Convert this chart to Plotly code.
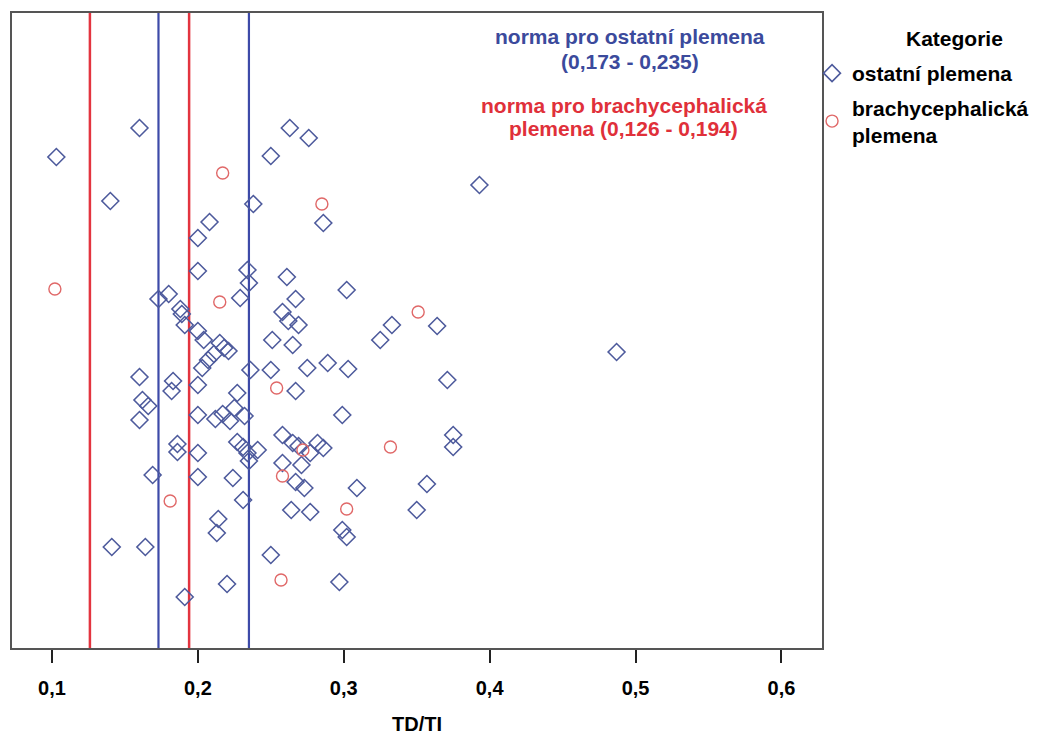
import plotly.graph_objects as go

# ---- data -----------------------------------------------------------------
# TD/TI values (x) and vertical jitter positions (arbitrary units, y axis hidden)
ostatni_tdti = [
    0.103, 0.160, 0.140, 0.263, 0.276, 0.250, 0.238, 0.286, 0.208, 0.200,
    0.200, 0.234, 0.235, 0.261, 0.302, 0.229, 0.267, 0.393,
    0.173, 0.180, 0.188, 0.189, 0.191, 0.200, 0.204, 0.215, 0.218, 0.221,
    0.211, 0.207, 0.203, 0.258, 0.262, 0.269, 0.333, 0.364, 0.325, 0.251,
    0.265, 0.236, 0.250, 0.275, 0.289, 0.303, 0.487, 0.267, 0.371,
    0.160, 0.183, 0.182, 0.162, 0.166, 0.160, 0.200, 0.227, 0.225, 0.232,
    0.200, 0.212, 0.217, 0.222, 0.299,
    0.186, 0.186, 0.200, 0.169, 0.200, 0.224, 0.231, 0.227, 0.231, 0.234,
    0.241, 0.235, 0.258, 0.265, 0.269, 0.282, 0.286, 0.277, 0.258, 0.271,
    0.267, 0.273, 0.309, 0.264, 0.277, 0.375, 0.375, 0.357, 0.350, 0.214,
    0.213, 0.299, 0.302, 0.141, 0.164, 0.250, 0.220, 0.297, 0.191,
]
ostatni_jitter = [
    491, 520, 447, 520, 510, 492, 444, 425, 426, 410,
    377, 378, 365, 371, 358, 350, 349, 463,
    349, 354, 339, 334, 323, 317, 308, 305, 300, 297,
    294, 288, 280, 336, 327, 323, 323, 322, 308, 308,
    303, 278, 278, 280, 285, 279, 296, 257, 268,
    271, 267, 257, 248, 242, 228, 263, 255, 240, 232,
    233, 229, 234, 227, 233,
    204, 196, 195, 173, 171, 170, 148, 206, 201, 195,
    198, 187, 213, 205, 202, 205, 200, 195, 185, 183,
    166, 160, 160, 138, 136, 213, 201, 164, 138, 129,
    115, 118, 111, 101, 101, 93, 64, 66, 51,
]

brachy_tdti = [0.102, 0.217, 0.285, 0.215, 0.351, 0.254, 0.332, 0.272,
               0.258, 0.181, 0.302, 0.257]
brachy_jitter = [359, 475, 444, 346, 336, 260, 201, 198, 172, 147, 139, 68]

norma_ostatni = [0.173, 0.235]
norma_brachy = [0.126, 0.194]

x_ticks = [0.1, 0.2, 0.3, 0.4, 0.5, 0.6]

series_names = ["ostatní plemena", "brachycephalická<br>plemena"]
norma_ostatni_text = ["norma pro ostatní plemena", "(0,173 - 0,235)"]
norma_brachy_text = ["norma pro brachycephalická", "plemena (0,126 - 0,194)"]

# ---- styling ----------------------------------------------------------------
BLUE_MARK = "#4d5a9c"
RED_MARK = "#e06868"
BLUE_LINE = "#3d4aa8"
RED_LINE = "#e3343f"
BLUE_TXT = "#3b4a9c"
RED_TXT = "#e0303a"
FONT = "Liberation Sans, Arial, sans-serif"

fig = go.Figure()
fig.add_trace(go.Scatter(
    x=ostatni_tdti, y=ostatni_jitter, mode="markers", name=series_names[0],
    legendgroup="a",
    marker=dict(symbol="diamond-open", size=13, color=BLUE_MARK,
                line=dict(width=1.6, color=BLUE_MARK)),
))
fig.add_trace(go.Scatter(
    x=brachy_tdti, y=brachy_jitter, mode="markers", name=series_names[1],
    legendgroup="b",
    marker=dict(symbol="circle-open", size=12, color=RED_MARK,
                line=dict(width=1.4, color=RED_MARK)),
))

shapes = []
for v in norma_brachy:
    shapes.append(dict(type="line", xref="x", yref="paper", x0=v, x1=v, y0=0, y1=1,
                       line=dict(color=RED_LINE, width=2.5), layer="below"))
for v in norma_ostatni:
    shapes.append(dict(type="line", xref="x", yref="paper", x0=v, x1=v, y0=0, y1=1,
                       line=dict(color=BLUE_LINE, width=2.2), layer="below"))

annotations = []
for txt, yy in zip(norma_ostatni_text, [0.963, 0.924]):
    annotations.append(dict(text=txt, xref="paper", yref="paper", x=0.763, y=yy,
                            xanchor="center", yanchor="middle", showarrow=False,
                            font=dict(family=FONT, size=21, color=BLUE_TXT, weight="bold")))
for txt, yy in zip(norma_brachy_text, [0.855, 0.818]):
    annotations.append(dict(text=txt, xref="paper", yref="paper", x=0.755, y=yy,
                            xanchor="center", yanchor="middle", showarrow=False,
                            font=dict(family=FONT, size=21, color=RED_TXT, weight="bold")))
annotations.append(dict(text="Kategorie", xref="paper", yref="paper", x=1.164, y=0.96,
                        xanchor="center", yanchor="middle", showarrow=False,
                        font=dict(family=FONT, size=21, color="#000000", weight="bold")))

fig.update_layout(
    width=1062, height=735,
    margin=dict(l=12, r=240, t=13, b=87, autoexpand=False),
    paper_bgcolor="white", plot_bgcolor="white",
    separators=", ",
    font=dict(family=FONT, size=19, color="#000000"),
    shapes=shapes, annotations=annotations,
    showlegend=True,
    legend=dict(x=0.9877, y=0.937, xanchor="left", yanchor="top",
                font=dict(family=FONT, size=21, color="#000000", weight="bold"),
                traceorder="grouped", tracegroupgap=4,
                bgcolor="rgba(0,0,0,0)", itemwidth=30),
    xaxis=dict(range=[0.0726, 0.6278], tickvals=x_ticks, tickformat=".1f",
               showgrid=False, zeroline=False, showline=True, mirror=True,
               linecolor="#555555", linewidth=2, automargin=False,
               ticks="outside", ticklen=13, tickwidth=1.5, tickcolor="#222222",
               ticklabelstandoff=8,
               tickfont=dict(family=FONT, size=20, color="#000000", weight="bold"),
               title=dict(text="TD/TI", standoff=21,
                          font=dict(family=FONT, size=20, color="#000000", weight="bold"))),
    yaxis=dict(range=[0, 635], showgrid=False, zeroline=False, showline=True,
               mirror=True, linecolor="#555555", linewidth=2, automargin=False,
               showticklabels=False, ticks=""),
)

fig.write_html("out.html")
